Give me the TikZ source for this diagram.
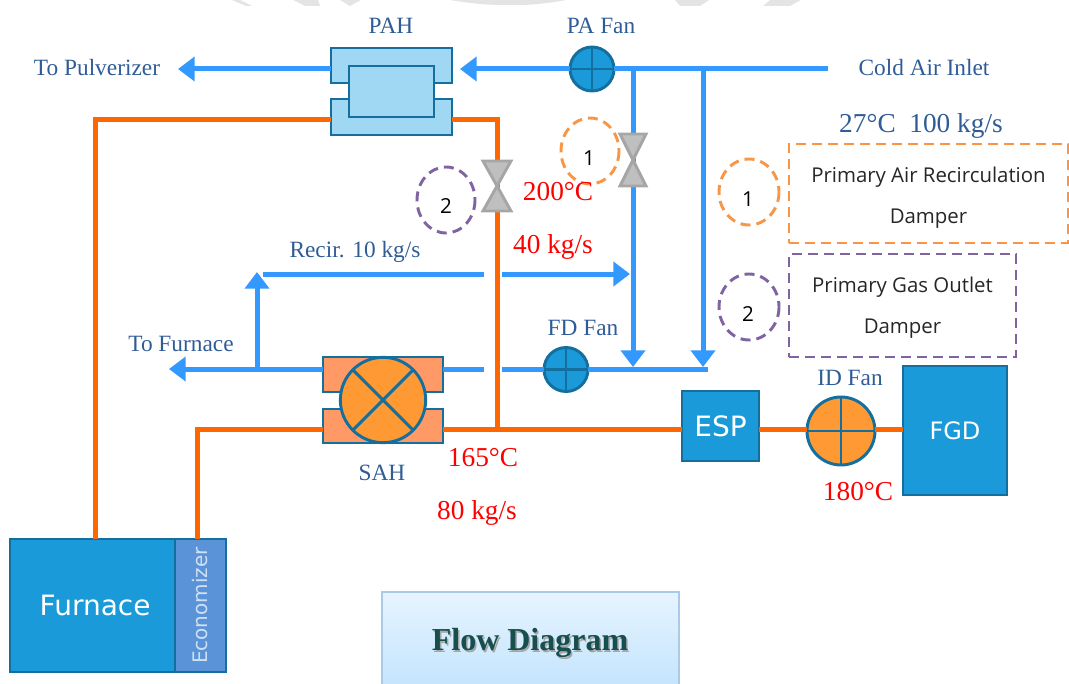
\documentclass[tikz,border=0pt]{standalone}
\usepackage{fontspec}
\setmainfont{Liberation Serif}
\newfontfamily\thinsans{Open Sans}
\newfontfamily\widesans{DejaVu Sans}
\usetikzlibrary{arrows.meta,calc}
\definecolor{airblue}{HTML}{3399FF}
\definecolor{gasorange}{HTML}{FF6600}
\definecolor{edgeblue}{HTML}{156F9E}
\definecolor{eqblue}{HTML}{1B9AD9}
\definecolor{paleblue}{HTML}{A0D8F3}
\definecolor{ecoblue}{HTML}{5B93D8}
\definecolor{ecotext}{HTML}{CFE0F5}
\definecolor{eqorange}{HTML}{FF9933}
\definecolor{paleorange}{HTML}{FF9966}
\definecolor{labelblue}{HTML}{2F5C96}
\definecolor{dashorange}{HTML}{F79646}
\definecolor{dashpurple}{HTML}{8064A2}
\definecolor{valvefill}{HTML}{BFBFBF}
\definecolor{valveedge}{HTML}{A6A6A6}
\definecolor{titlegreen}{HTML}{174F4F}
\definecolor{titletop}{HTML}{E6F4FF}
\definecolor{titlebottom}{HTML}{C4E4FD}
\definecolor{titleedge}{HTML}{A9CBE8}
\definecolor{faintgray}{HTML}{E4E4E4}
\tikzset{
  wh/.style 2 args={minimum width=#1*0.75pt,minimum height=#2*0.75pt,inner sep=0pt,outer sep=0pt},
  air/.style={draw=airblue,line width=3.75pt},
  airhead/.style={air,-{Triangle[length=12.5pt,width=18pt]}},
  gas/.style={draw=gasorange,line width=3.75pt},
  eqedge/.style={draw=edgeblue,line width=2.2pt},
  pale/.style={eqedge,fill=paleblue},
  palehot/.style={eqedge,fill=paleorange},
  solidbox/.style={eqedge,fill=eqblue,text=white},
  coolfan/.style={circle,eqedge,fill=eqblue,minimum size=33pt,inner sep=0pt,outer sep=0pt},
  hotfan/.style={circle,eqedge,fill=eqorange,inner sep=0pt,outer sep=0pt},
  valveshape/.style={draw=valveedge,fill=valvefill,line width=2.2pt,line join=miter},
  lab/.style={text=labelblue,font=\fontsize{17.5}{20}\selectfont,inner sep=0pt},
  hotlab/.style={text=red,font=\fontsize{20.5}{24}\selectfont,inner sep=0pt},
  dashline/.style={line width=2.2pt,dash pattern=on 7.5pt off 4.5pt},
  ringnum/.style={text=black,font=\thinsans\fontsize{15.5}{18}\selectfont,inner sep=0pt},
  legendtext/.style={align=center,text=black!85,font=\thinsans\fontsize{15.3}{30.75}\selectfont,inner sep=0pt},
}
\begin{document}
\begin{tikzpicture}[x=0.75pt,y=-0.75pt]
\useasboundingbox (0,0) rectangle (1069,684);
% faint remains of the watermark along the top edge
\fill[faintgray] (450,0) .. controls (490,7) and (530,7) .. (566,0) -- cycle;
\fill[faintgray] (225,0) -- (232,0) -- (246,6) -- (252,6) -- (240,0) -- cycle;
\fill[faintgray] (293,0) -- (305,6) -- (320,6) -- (318,0) -- cycle;
\fill[faintgray] (340,0) -- (350,6) -- (361,0) -- cycle;
\fill[faintgray] (675,0) -- (680,6) -- (700,6) -- (709,0) -- cycle;
\fill[faintgray] (770,0) -- (763,6) -- (790,6) -- (801,0) -- cycle;
% coordinates
\coordinate (inlet) at (828,69);
\coordinate (pulvtip) at (178,69);
\coordinate (pahtip) at (460,69);
\coordinate (j1) at (633,69);
\coordinate (j2) at (703,69);
\coordinate (v1) at (633,160);
\coordinate (v2) at (497,186);
\coordinate (tip1) at (633,367);
\coordinate (tip2) at (703,367);
\coordinate (lineend) at (708,369);
\coordinate (recE) at (630,274);
\coordinate (recA) at (502,274);
\coordinate (recB) at (484,274);
\coordinate (recC) at (263,274);
\coordinate (uptip) at (257,272);
\coordinate (upbase) at (257,369);
\coordinate (furntip) at (169,369);
\coordinate (sahA) at (484,369);
\coordinate (sahB) at (502,369);
\coordinate (c1) at (95,120);
\coordinate (c2) at (497,120);
\coordinate (c3) at (497,429);
\coordinate (c4) at (197,429);
% equipment
\node[wh={121}{35},pale] (pahu) at (391.5,65.5) {};
\node[wh={121}{36},pale] (pahl) at (391.5,117) {};
\node[wh={85}{51},pale] (pahc) at (391.5,91.5) {};
\node[wh={120}{35},palehot] (sahu) at (383,374.5) {};
\node[wh={120}{34},palehot] (sahl) at (383,426) {};
\node[hotfan,minimum size=64pt] (sah) at (383,400) {};
\draw[eqedge] (sah.45) -- (sah.225) (sah.135) -- (sah.315);
\node[coolfan] (pafan) at (592,69) {};
\draw[eqedge] (pafan.north) -- (pafan.south) (pafan.west) -- (pafan.east);
\node[coolfan] (fdfan) at (566,369.5) {};
\draw[eqedge] (fdfan.north) -- (fdfan.south) (fdfan.west) -- (fdfan.east);
\node[hotfan,minimum size=51pt] (idfan) at (841,431) {};
\draw[eqedge] (idfan.north) -- (idfan.south) (idfan.west) -- (idfan.east);
\node[wh={77}{70},solidbox,font=\widesans\fontsize{21}{24}\selectfont] (esp) at (720.5,426) {ESP};
\node[wh={104}{129},solidbox,font=\widesans\fontsize{18}{22}\selectfont] (fgd) at (955,430.5) {FGD};
\node[wh={165}{133},solidbox,font=\widesans\fontsize{21}{24}\selectfont] (furn) at (92.5,605.5) {\hspace*{4pt}Furnace};
\node[wh={133}{51},eqedge,fill=ecoblue,text=ecotext,rotate=90,font=\widesans\fontsize{15}{18}\selectfont] (eco) at (200.5,605.5) {Economizer};
% lines
\draw[air] (inlet) -- (pafan.east);
\draw[airhead] (pafan.west) -- (pahtip);
\draw[airhead] (pahu.west |- pulvtip) -- (pulvtip);
\draw[airhead] (j1) -- (tip1);
\draw[airhead] (j2) -- (tip2);
\draw[air] (recC) -- (recB);
\draw[airhead] (recA) -- (recE);
\draw[airhead] (upbase) -- (uptip);
\draw[airhead] (sahu.west |- furntip) -- (furntip);
\draw[air] (sahA) -- (sahu.east |- sahA);
\draw[air] (sahB) -- (fdfan.west |- sahB);
\draw[air] (fdfan.east |- lineend) -- (lineend);
\draw[gas] (c1 |- furn.north) -- (c1) -- (pahl.west |- c1);
\draw[gas] (pahl.east |- c2) -- (c2) -- (c3);
\draw[gas] (c4 |- eco.east) -- (c4) -- (sahl.west |- c4);
\draw[gas] (sahl.east |- c3) -- (esp.west |- c3);
\draw[gas] (esp.east |- c3) -- (idfan.west |- c3);
\draw[gas] (idfan.east |- c3) -- (fgd.west |- c3);
% valves
\draw[valveshape] (v1) -- ++(-13,-26) -- ++(26,0) -- cycle;
\draw[valveshape] (v1) -- ++(-13,26) -- ++(26,0) -- cycle;
\draw[valveshape] (v2) -- ++(-14,-25) -- ++(28,0) -- cycle;
\draw[valveshape] (v2) -- ++(-14,25) -- ++(28,0) -- cycle;
% dashed rings and keys
\draw[dashline,draw=dashorange] (590,151) ellipse (29 and 33);
\draw[dashline,draw=dashpurple] (446,200) ellipse (29 and 33);
\draw[dashline,draw=dashorange] (749,192) ellipse (30 and 33);
\draw[dashline,draw=dashpurple] (749,307) ellipse (30 and 33);
\node[ringnum] (n1a) at (589,158) {1};
\node[ringnum] (n2a) at (446,206) {2};
\node[ringnum] (n1b) at (748,199) {1};
\node[ringnum] (n2b) at (748,314) {2};
\node[wh={279}{99},dashline,draw=dashorange] (leg1) at (928.5,193.5) {};
\node[wh={227}{103},dashline,draw=dashpurple] (leg2) at (902.5,305.5) {};
\node[legendtext] (leg1t) at (928.5,197.5) {Primary Air Recirculation\\Damper};
\node[legendtext] (leg2t) at (902.5,307.5) {Primary Gas Outlet\\Damper};
% labels
\node[lab] (lpah) at (391,26) {PAH};
\node[lab] (lpa) at (601,26) {PA Fan};
\node[lab] (lpulv) at (97,68) {To Pulverizer};
\node[lab] (linlet) at (924,68) {Cold Air Inlet};
\node[lab,font=\fontsize{20.5}{24}\selectfont] (lflow) at (921,126) {27°C\ \ 100 kg/s};
\node[hotlab] (l200) at (558,192) {200°C};
\node[hotlab] (l40) at (553,247) {40 kg/s};
\node[lab] (lrec) at (355,252) {Recir. 10 kg/s};
\node[lab] (lfurn) at (181,344) {To Furnace};
\node[lab] (lfd) at (583,328) {FD Fan};
\node[lab] (lsah) at (382,473) {SAH};
\node[hotlab] (l165) at (483,458) {165°C};
\node[hotlab] (l80) at (477,513) {80 kg/s};
\node[lab] (lid) at (850,378) {ID Fan};
\node[hotlab] (l180) at (858,492) {180°C};
% title box
\node[wh={297}{96},draw=titleedge,top color=titletop,bottom color=titlebottom,line width=1pt] (flowbox) at (530.5,640) {};
\node[text=gray!70,font=\bfseries\fontsize{24}{28}\selectfont,inner sep=0pt] (flowshadow) at (531.5,645) {Flow Diagram};
\node[text=titlegreen,font=\bfseries\fontsize{24}{28}\selectfont,inner sep=0pt] (flowtitle) at (530,643) {Flow Diagram};
\end{tikzpicture}
\end{document}
